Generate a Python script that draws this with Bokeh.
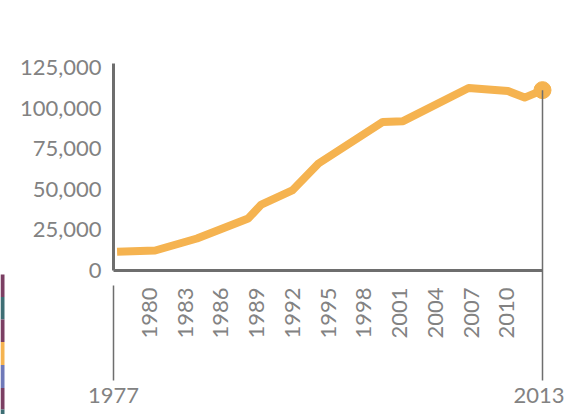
from bokeh.plotting import figure
from bokeh.models import Range1d, FixedTicker, NumeralTickFormatter
from bokeh.core.properties import value
from bokeh.embed import file_html
from bokeh.resources import INLINE
from math import pi

# ---- data ----
years = [1977.3, 1980.5, 1984, 1988.3, 1989.4, 1992, 1994.2, 1999.6,
         2001.3, 2006.8, 2010.1, 2011.5, 2013]
values = [11500, 12300, 19700, 32000, 40600, 49300, 65900, 91500,
          92000, 112400, 110500, 106500, 111100]
x_ticks = [1980, 1983, 1986, 1989, 1992, 1995, 1998, 2001, 2004, 2007, 2010]
y_ticks = [0, 25000, 50000, 75000, 100000, 125000]
range_labels = ["1977", "2013"]
range_years = [1977, 2013]

# decorative colour strip (left edge)
strip_colors = ["#7b3f63", "#3e6e74", "#7b3f63", "#f5b350", "#6f79b8", "#7b3f63", "#3e6e74"]

FONT = "Lato"
GRAY = "#828282"
AXIS = "#6e6e6e"
ORANGE = "#f5b350"

W, H = 566, 414
LEFT, RIGHT, TOP, BOTTOM = 113, 24, 63, 144   # borders around the plot frame
X0, X1 = 1977, 2013
Y0, Y1 = 0, 127500

p = figure(width=W, height=H, output_backend="svg", toolbar_location=None,
           x_range=Range1d(X0, X1), y_range=Range1d(Y0, Y1),
           min_border_left=LEFT, min_border_right=RIGHT, min_border_top=TOP,
           min_border_bottom=BOTTOM)
p.styles = {"position": "absolute", "left": "0px", "top": "0px"}
p.outline_line_color = None
p.xgrid.visible = False
p.ygrid.visible = False

p.line(years, values, line_color=ORANGE, line_width=8, line_join="round")

# axes
p.xaxis.ticker = FixedTicker(ticks=x_ticks)
p.yaxis.ticker = FixedTicker(ticks=y_ticks)
p.yaxis.formatter = NumeralTickFormatter(format="0,0")
for ax in (p.xaxis, p.yaxis):
    ax.axis_line_color = AXIS
    ax.axis_line_width = 3
    ax.major_tick_line_color = None
    ax.minor_tick_line_color = None
    ax.major_tick_out = 0
    ax.major_tick_in = 0
    ax.major_label_text_font = FONT
    ax.major_label_text_font_size = "22px"
    ax.major_label_text_color = GRAY
p.xaxis.major_label_orientation = pi / 2
p.xaxis.major_label_standoff = 17
p.yaxis.major_label_standoff = 12

# ---- transparent overlay covering the whole canvas (same data scales) ----
ux = (X1 - X0) / (W - LEFT - RIGHT)
uy = (Y1 - Y0) / (H - TOP - BOTTOM)
def ypix(py):   # canvas pixel row -> data value
    return Y0 + (H - BOTTOM - py) * uy
def xpix(px):
    return X0 + (px - LEFT) * ux

o = figure(width=W, height=H, output_backend="svg", toolbar_location=None,
           x_range=Range1d(xpix(0), xpix(W)), y_range=Range1d(ypix(H), ypix(0)),
           min_border=0, x_axis_type=None, y_axis_type=None)
o.styles = {"position": "absolute", "left": "0px", "top": "0px"}
o.outline_line_color = None
o.background_fill_color = None
o.border_fill_color = None
o.xgrid.visible = False
o.ygrid.visible = False

# end-point dot
o.scatter([years[-1]], [values[-1]], size=17, color=ORANGE)

# range markers below the chart
o.segment(x0=range_years, y0=[ypix(285), values[-1]],
          x1=range_years, y1=[ypix(380), ypix(380)],
          line_color=AXIS, line_width=1.5)
o.text(x=[range_years[0]], y=[ypix(395)], text=[range_labels[0]],
       text_font=value(FONT), text_font_size="22px", text_color=GRAY,
       text_align="center", text_baseline="middle")
o.text(x=[range_years[1]], y=[ypix(395)], text=[range_labels[1]],
       text_font=value(FONT), text_font_size="22px", text_color=GRAY,
       text_align="right", text_baseline="middle", x_offset=22)

# colour strip at the left edge
edges = [274, 296.5, 319, 341.5, 364.5, 387.5, 409, 414]
o.quad(left=[xpix(0)] * 7, right=[xpix(4)] * 7,
       top=[ypix(e) for e in edges[:-1]], bottom=[ypix(e) for e in edges[1:]],
       fill_color=strip_colors, line_color=None)

open("out.html", "w").write(file_html([p, o], INLINE))
